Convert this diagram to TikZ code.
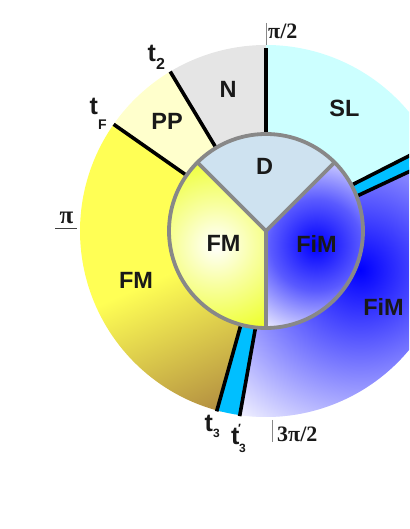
\documentclass[tikz,border=0pt]{standalone}
\usepackage{fontspec}
\setmainfont{Liberation Sans}
\newfontfamily\pifont{Liberation Serif}
\definecolor{slc}{RGB}{204,255,255}
\definecolor{nc}{RGB}{229,229,229}
\definecolor{ppc}{RGB}{255,255,204}
\definecolor{fmy}{RGB}{255,255,85}
\definecolor{fmm}{RGB}{234,212,106}
\definecolor{fmb}{RGB}{176,138,64}
\definecolor{dc}{RGB}{206,226,240}
\definecolor{stripc}{RGB}{0,191,255}
\definecolor{fimmid}{RGB}{90,90,255}
\definecolor{fimlight}{RGB}{232,232,255}
\definecolor{fimlighto}{RGB}{242,242,255}
\definecolor{fminmid}{RGB}{248,255,160}
\definecolor{fminout}{RGB}{236,255,30}
\definecolor{bord}{RGB}{136,136,136}
\definecolor{txt}{RGB}{25,25,25}
\pgfdeclareradialshading{fminshade}{\pgfpointorigin}{color(0bp)=(white); color(10bp)=(fminmid); color(25bp)=(fminout); color(50bp)=(fminout)}
\pgfdeclareradialshading{fiminshade}{\pgfpointorigin}{color(0bp)=(blue); color(12bp)=(fimmid); color(25bp)=(fimlight); color(50bp)=(fimlight)}
\pgfdeclareradialshading{fimoutshade}{\pgfpointorigin}{color(0bp)=(blue); color(25bp)=(fimlighto); color(50bp)=(fimlighto)}
\newcommand\sect[4]{(#1:#3) arc[start angle=#1,end angle=#2,radius=#3] -- (#2:#4) arc[start angle=#2,end angle=#1,radius=#4] -- cycle}
\begin{document}
\begin{tikzpicture}[x=1pt,y=1pt,
  ctr/.style={shift={(266pt,298pt)}},
  blk/.style={line width=3.6pt,black},
  gryl/.style={line width=3.8pt,bord,line join=round},
  lab/.style={font=\fontsize{23.5}{23.5}\selectfont\bfseries,inner sep=0pt,text=txt},
  tlab/.style={font=\fontsize{25}{25}\selectfont\bfseries,inner sep=0pt,anchor=base west,text=txt},
  pilab/.style={font=\pifont\bfseries\fontsize{22}{22}\selectfont,inner sep=0pt,anchor=base west,text=txt},
  tick/.style={line width=0.9pt,bord}]
\useasboundingbox (0,0) rectangle (409,529);
\begin{scope}
\clip (0,0) rectangle (409,529);
% outer ring
\fill[slc,ctr] \sect{27}{90}{97pt}{186pt};
\fill[nc,ctr] \sect{90}{121}{97pt}{186pt};
\fill[ppc,ctr] \sect{121}{145}{97pt}{186pt};
\begin{scope}
  \clip[ctr] \sect{145}{256}{97pt}{186pt};
  \begin{scope}[transform canvas={shift={(266pt,298pt)},rotate=24}]
    \fill[fmy] (-230,0) rectangle (230,230);
    \shade[top color=fmy,middle color=fmm,bottom color=fmb] (-230,-150) rectangle (230,0.5);
    \fill[fmb] (-230,-149.5) rectangle (230,-230);
  \end{scope}
\end{scope}
\begin{scope}
  \clip[ctr] \sect{-98}{24}{97pt}{186pt};
  \fill[fimlighto,ctr] \sect{-98}{24}{97pt}{186pt};
  \shade[shading=fimoutshade,ctr] (94pt,-39pt) circle (190pt);
\end{scope}
% strips
\fill[stripc,ctr] (21:97pt) -- (23:186pt) arc[start angle=23,end angle=27.6,radius=186pt] -- (28.2:97pt) arc[start angle=28.2,end angle=21,radius=97pt] -- cycle;
\fill[stripc,ctr] (255:97pt) -- (254.7:186pt) arc[start angle=254.7,end angle=261.9,radius=186pt] -- (263.8:97pt) arc[start angle=263.8,end angle=255,radius=97pt] -- cycle;
% black boundary lines
\draw[blk,ctr] (90:97pt) -- (90:183pt);
\draw[blk,ctr] (121:97pt) -- (121:186pt);
\draw[blk,ctr] (145:97pt) -- (145:186pt);
\draw[blk,ctr] (255:97pt) -- (254.7:187pt);
\draw[blk,ctr] (263.8:97pt) -- (261.9:187pt);
\draw[blk,ctr] (21:97pt) -- (23:190pt);
\draw[blk,ctr] (28.2:97pt) -- (27.6:190pt);
% inner disc
\fill[dc,ctr] (0,0) -- (45:97pt) arc[start angle=45,end angle=135,radius=97pt] -- cycle;
\begin{scope}
  \clip[ctr] (0,0) -- (135:97pt) arc[start angle=135,end angle=270,radius=97pt] -- cycle;
  \fill[fminout,ctr] (0,0) circle (100pt);
  \shade[shading=fminshade,ctr] (-50pt,-14pt) circle (100pt);
\end{scope}
\begin{scope}
  \clip[ctr] (0,0) -- (270:97pt) arc[start angle=270,end angle=405,radius=97pt] -- cycle;
  \fill[fimlight,ctr] (0,0) circle (100pt);
  \shade[shading=fiminshade,ctr] (50pt,-14pt) circle (95pt);
\end{scope}
\draw[gryl,ctr] (0,0) circle (97pt);
\draw[gryl,ctr] (45:97pt) -- (0,0) -- (135:97pt);
\draw[gryl,ctr] (0,0) -- (270:97pt);
\end{scope}
% region labels
\node[lab] (n) at (228,439.5) {N};
\node[lab] (sl) at (344.5,421) {SL};
\node[lab] (pp) at (167,407.5) {PP};
\node[lab] (d) at (264.7,363) {D};
\node[lab] (fmi) at (223.5,285.5) {FM};
\node[lab] (fimi) at (316.5,285) {FiM};
\node[lab] (fmo) at (136,248.5) {FM};
\node[lab] (fimo) at (383.5,222.5) {FiM};
% angle labels
\draw[tick] (266,506) -- (266,484);
\node[pilab] (p2) at (268,490.7) {π/2};
\draw[tick] (272.7,109) -- (272.7,87.3);
\node[pilab] (p32) at (277,87.5) {3π/2};
\node[pilab,font=\pifont\bfseries\fontsize{25}{25}\selectfont] (p1) at (59.5,305) {π};
\draw[line width=1pt,black!75] (55,300) -- (77,300);
% time labels
\node[tlab] (t2) at (147.5,467) {t\raisebox{-8pt}{\fontsize{16}{16}\selectfont 2}};
\node[tlab] (tf) at (89.5,414) {t\raisebox{-15pt}{\fontsize{14}{14}\selectfont F}};
\node[tlab] (t3) at (204.5,97) {t\raisebox{-6pt}{\fontsize{12}{12}\selectfont 3}};
\node[tlab] (t3p) at (231,84) {t\kern-0.5pt\rlap{\kern-1pt\raisebox{12pt}{\fontsize{12}{12}\selectfont ′}}\raisebox{-8pt}{\fontsize{12}{12}\selectfont 3}};
\end{tikzpicture}
\end{document}
